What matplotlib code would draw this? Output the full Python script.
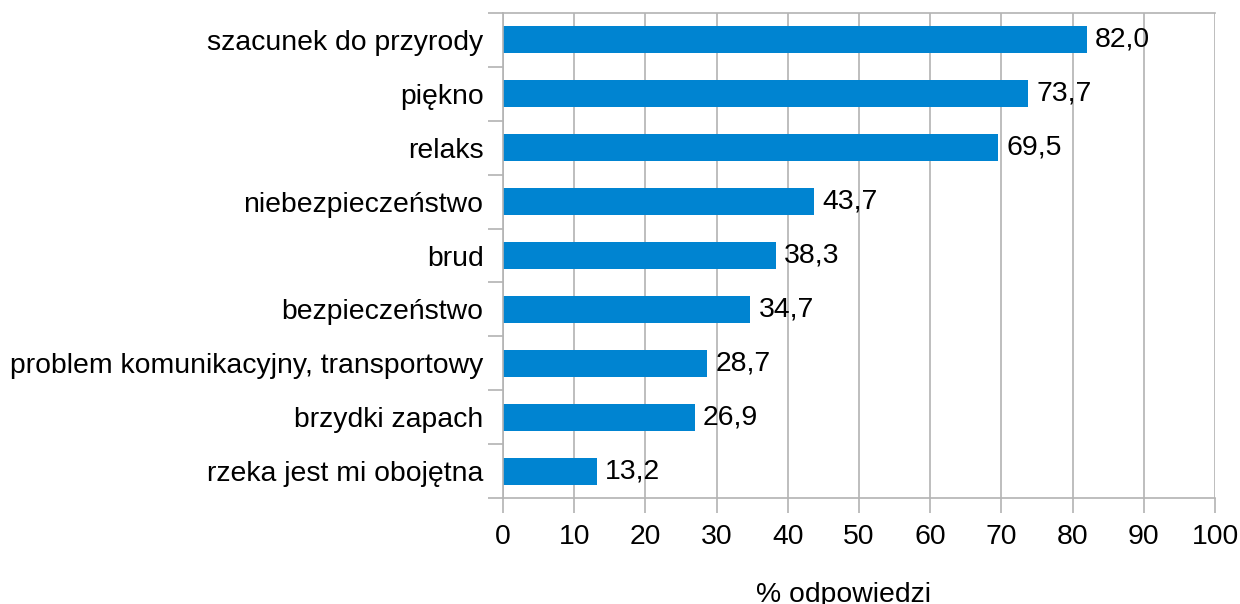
import matplotlib
matplotlib.use('Agg')
import matplotlib.pyplot as plt
import numpy as np

categories = ['szacunek do przyrody', 'piękno', 'relaks', 'niebezpieczeństwo', 'brud',
              'bezpieczeństwo', 'problem komunikacyjny, transportowy', 'brzydki zapach',
              'rzeka jest mi obojętna']
values = [82.0, 73.7, 69.5, 43.7, 38.3, 34.7, 28.7, 26.9, 13.2]
xticks = [0, 10, 20, 30, 40, 50, 60, 70, 80, 90, 100]

plt.rcParams['font.family'] = ['Liberation Sans', 'DejaVu Sans']
plt.rcParams['font.size'] = 20.4

W, H = 1240, 604
fig = plt.figure(figsize=(W / 100, H / 100), dpi=100)
ax = fig.add_axes([503 / W, 1 - 498 / H, (1215 - 503) / W, (498 - 13) / H])

grey = '#b3b3b3'
y = np.arange(len(categories))
ax.barh(y, values, height=0.5, color='#0084d1', zorder=2)
for yi, v in zip(y, values):
    ax.annotate(f'{v:.1f}'.replace('.', ','), (v, yi), xytext=(6, 0),
                textcoords='offset points', va='center', ha='left')

ax.set_ylim(len(categories) - 0.5, -0.5)
ax.set_xlim(0, 100)
ax.set_xticks(xticks)
ax.set_yticks(y)
ax.set_yticklabels(categories)
ax.set_yticks(np.arange(-0.5, len(categories), 1), minor=True)
ax.tick_params(axis='y', which='major', length=0, pad=14)
ax.tick_params(axis='y', which='minor', length=11, color=grey, width=1.2)
ax.tick_params(axis='x', length=11, color=grey, width=1.2, pad=8)
ax.xaxis.grid(True, color=grey, linewidth=1.2, zorder=0)
ax.set_axisbelow(True)
for side in ['left', 'bottom', 'top']:
    ax.spines[side].set_color(grey)
    ax.spines[side].set_linewidth(1.2)
ax.spines['right'].set_visible(False)

fig.text(844 / W, 1 - 595 / H, '% odpowiedzi', ha='center', va='center')

fig.savefig('out.png', dpi=100)
